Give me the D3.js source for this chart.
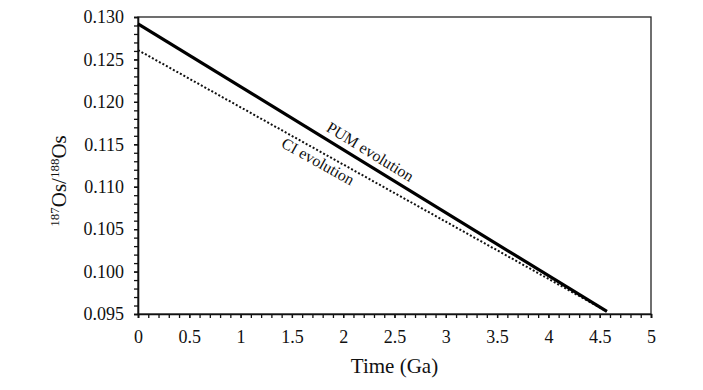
<!DOCTYPE html>
<html>
<head>
<meta charset="utf-8">
<title>Os evolution</title>
<script src="https://d3js.org/d3.v7.min.js"></script>
<style>
  body { margin: 0; background: #fff; }
  text { font-family: "Liberation Serif", "Times New Roman", serif; fill: #111; }
</style>
</head>
<body>
<div id="chart"></div>
<script>
// data
var times = [0, 4.57];                 // Ga
var pumValues = [0.1292, 0.0953];      // PUM evolution
var ciValues = [0.1261, 0.0953];       // CI evolution
var xTicks = [0, 0.5, 1, 1.5, 2, 2.5, 3, 3.5, 4, 4.5, 5];
var yTicks = [0.095, 0.100, 0.105, 0.110, 0.115, 0.120, 0.125, 0.130];
var xMinor = d3.range(0, 5.001, 0.1);
var yMinor = d3.range(0.095, 0.1301, 0.001);

var W = 703, H = 390;
var margin = {top: 17, right: 52, bottom: 76, left: 138};
var width = W - margin.left - margin.right,
    height = H - margin.top - margin.bottom;

var svg = d3.select("#chart").append("svg")
    .attr("width", W).attr("height", H);
var g = svg.append("g")
    .attr("transform", "translate(" + margin.left + "," + margin.top + ")");

var x = d3.scaleLinear().domain([0, 5]).range([0, width]);
var y = d3.scaleLinear().domain([0.095, 0.130]).range([height, 0]);

// frame
g.append("rect")
    .attr("width", width).attr("height", height)
    .attr("fill", "none").attr("stroke", "#222").attr("stroke-width", 1.3);

// minor ticks
g.append("g")
    .attr("transform", "translate(0," + height + ")")
    .call(d3.axisBottom(x).tickValues(xMinor).tickSize(4).tickFormat(""))
    .call(a => a.select(".domain").remove());
g.append("g")
    .call(d3.axisLeft(y).tickValues(yMinor).tickSize(4).tickFormat(""))
    .call(a => a.select(".domain").remove());

// major axes
var xAxis = g.append("g")
    .attr("transform", "translate(0," + height + ")")
    .call(d3.axisBottom(x).tickValues(xTicks).tickSize(4).tickPadding(12).tickFormat(d => String(d)));
var yAxis = g.append("g")
    .call(d3.axisLeft(y).tickValues(yTicks).tickSize(4).tickPadding(10).tickFormat(d3.format(".3f")));

[xAxis, yAxis].forEach(function(a) {
  a.selectAll("text").style("font-size", "18px").attr("font-family", null);
  a.select(".domain").attr("stroke-width", 1.6).attr("stroke", "#111");
});
g.selectAll(".tick line").attr("stroke", "#111").attr("stroke-width", 1.3);

// lines
var pum = times.map((t, i) => [t, pumValues[i]]);
var ci = times.map((t, i) => [t, ciValues[i]]);
var line = d3.line().x(d => x(d[0])).y(d => y(d[1]));

g.append("path").datum(ci).attr("d", line)
    .attr("fill", "none").attr("stroke", "#111")
    .attr("stroke-width", 2).attr("stroke-dasharray", "2,2");
g.append("path").datum(pum).attr("d", line)
    .attr("fill", "none").attr("stroke", "#000")
    .attr("stroke-width", 3.2);

// labels along the lines
function label(text, series, t, dy) {
  var v = series[0][1] + (series[1][1] - series[0][1]) * (t - series[0][0]) / (series[1][0] - series[0][0]);
  var ang = Math.atan2(y(series[1][1]) - y(series[0][1]), x(series[1][0]) - x(series[0][0])) * 180 / Math.PI;
  g.append("text")
      .attr("transform", "translate(" + x(t) + "," + y(v) + ") rotate(" + ang + ")")
      .attr("text-anchor", "middle")
      .attr("dy", dy)
      .style("font-size", "16px")
      .text(text);
}
label("PUM evolution", pum, 2.2, -7);
label("CI evolution", ci, 1.8, 15);

// axis titles
svg.append("text")
    .attr("x", margin.left + x(2.5)).attr("y", 373)
    .attr("text-anchor", "middle")
    .style("font-size", "21px")
    .text("Time (Ga)");

var yt = svg.append("text")
    .attr("transform", "translate(66,181) rotate(-90)")
    .attr("text-anchor", "middle")
    .style("font-size", "21px");
yt.append("tspan").attr("baseline-shift", "super").style("font-size", "13px").text("187");
yt.append("tspan").text("Os/");
yt.append("tspan").attr("baseline-shift", "super").style("font-size", "13px").text("188");
yt.append("tspan").text("Os");
</script>
</body>
</html>
